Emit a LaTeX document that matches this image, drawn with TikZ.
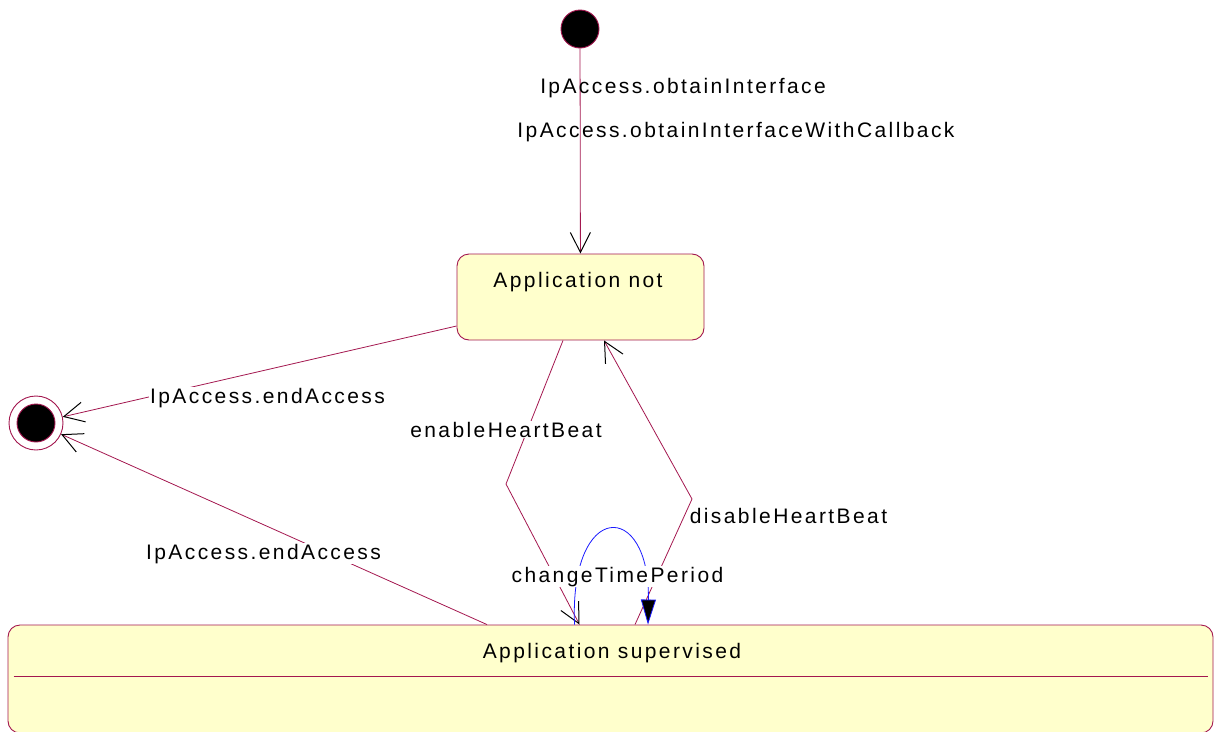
\documentclass[tikz,border=0pt]{standalone}
\usepackage{fontspec}
\setmainfont{Liberation Sans}[LetterSpace=11.5]
\usetikzlibrary{arrows.meta,calc}
\definecolor{edge}{HTML}{A3174F}
\definecolor{stfill}{HTML}{FFFFCC}
\definecolor{loopblue}{HTML}{1A1AFF}
\tikzset{
  state/.style={draw=edge,fill=stfill,rounded corners=12pt,line width=0.9pt,inner sep=0pt},
  startdot/.style={circle,draw=edge,fill=black,minimum size=38pt,inner sep=0pt,line width=0.9pt},
  enddot/.style={circle,draw=edge,fill=white,minimum size=54pt,inner sep=0pt,line width=0.9pt},
  trans/.style={draw=edge,line width=0.8pt,-{Straight Barb[length=20pt,width=20pt,color=black,line width=1pt]}},
  selftrans/.style={draw=loopblue,line width=0.8pt,-{Triangle[length=25pt,width=15pt,fill=black]}},
  lbl/.style={font=\fontsize{21}{24}\selectfont,inner sep=1pt,anchor=base},
  lblw/.style={lbl,fill=white}
}
\begin{document}
\begin{tikzpicture}[x=1pt,y=-1pt]
  \useasboundingbox (0,0) rectangle (1218,731);

  % states
  \node[startdot] (init) at (580,29) {};
  \node[enddot] (final) at (36,423) {};
  \node[startdot] (finaldot) at (final) {};
  \node[state,minimum width=247pt,minimum height=86pt] (notsup) at (580.5,297) {};
  \node[lbl] (notsuptxt) at (578,287) {Application not};
  \node[state,minimum width=1205pt,minimum height=108pt] (sup) at (610.5,679) {};
  \node[lbl] (suptxt) at (612,658) {Application supervised};
  \draw[draw=edge,line width=0.8pt] ($(sup.west)+(6,-3)$) -- ($(sup.east)+(-5,-3)$);

  % transitions
  \draw[trans] (init) -- (notsup);
  \node[lbl] (obtain) at (683,93) {IpAccess.obtainInterface};
  \node[lbl] (obtaincb) at (736,137) {IpAccess.obtainInterfaceWithCallback};

  \draw[trans] ($(notsup.west)+(0,29)$) -- (final);
  \draw[trans] ($(sup.north)+(-123.5,0)$) -- (final);
  \node[lblw] (endnot) at (267.5,403) {IpAccess.endAccess};
  \node[lblw] (endsup) at (263.5,559) {IpAccess.endAccess};

  \coordinate (enbend) at (506,484);
  \draw[trans] ($(notsup.south)+(-17.5,0)$) -- (enbend) -- ($(sup.north)+(-31,0)$);
  \node[lblw] (enable) at (506,437) {enableHeartBeat};

  \coordinate (disbend) at (692,499);
  \draw[trans] ($(sup.north)+(24.5,0)$) -- (disbend) -- ($(notsup.south)+(23.5,0)$);
  \node[lblw] (disable) at (788.5,523) {disableHeartBeat};

  \draw[selftrans] ($(sup.north)+(-36,0)$) .. controls +(-5,-125) and +(2,-125) .. ($(sup.north)+(37.5,0)$);
  \node[lblw] (change) at (617.5,582) {changeTimePeriod};
\end{tikzpicture}
\end{document}
